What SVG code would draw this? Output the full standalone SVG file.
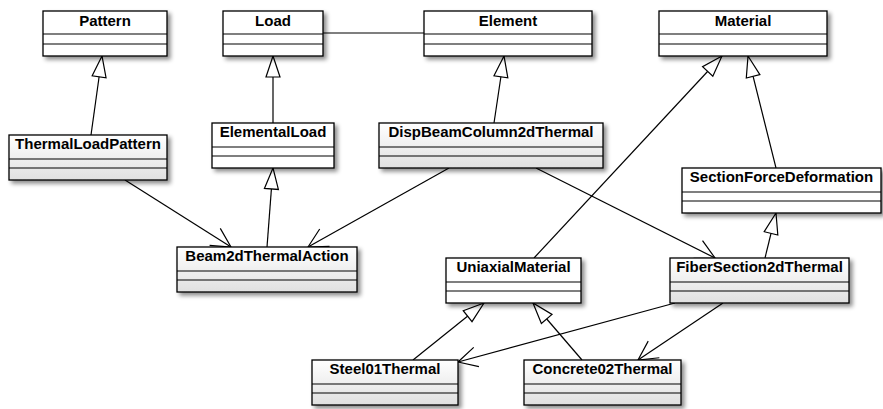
<svg xmlns="http://www.w3.org/2000/svg" width="883" height="409" viewBox="0 0 883 409">
  <defs>
    <style>
      .box { stroke: #000; stroke-width: 1.3; filter: url(#shadow); }
      .plain { fill: #fff; }
      .shade { fill: url(#fade); }
      .sep { stroke: #000; stroke-width: 1.2; }
      .name { font-family: "Liberation Sans", Arial, sans-serif; font-weight: bold; font-size: 15px; text-anchor: middle; fill: #000; }
      .link { fill: none; stroke: #000; stroke-width: 1.2; }
      .gen { marker-end: url(#triangle); }
      .assoc { marker-end: url(#openArrow); }
    </style>
    <linearGradient id="fade" x1="0" y1="0" x2="0" y2="1">
      <stop offset="0" stop-color="#ffffff"/>
      <stop offset="1" stop-color="#e0e0e0"/>
    </linearGradient>
    <filter id="shadow" x="-10%" y="-20%" width="130%" height="160%">
      <feDropShadow dx="3" dy="3" stdDeviation="2" flood-color="#000" flood-opacity="0.45"/>
    </filter>
    <marker id="triangle" markerUnits="userSpaceOnUse" orient="auto" markerWidth="30" markerHeight="30" refX="0" refY="0" viewBox="-25 -15 30 30" overflow="visible">
      <path d="M0,0 L-21,-7 L-21,7 Z" fill="#fff" stroke="#000" stroke-width="1.2"/>
    </marker>
    <marker id="openArrow" markerUnits="userSpaceOnUse" orient="auto" markerWidth="30" markerHeight="30" refX="0" refY="0" viewBox="-25 -15 30 30" overflow="visible">
      <path d="M-19,-10 L0,0 L-19,10" fill="none" stroke="#000" stroke-width="1.2"/>
    </marker>
  </defs>

  <rect width="883" height="409" fill="#fff"/>

  <!-- connectors -->
  <g id="connectors">
    <path class="link gen" d="M91,135 L102,56"/>
    <path class="link gen" d="M273,123 L273,56"/>
    <path class="link" d="M323,33 L424,33"/>
    <path class="link gen" d="M494,123 L504,56"/>
    <path class="link gen" d="M534,258 L722,56"/>
    <path class="link gen" d="M776,168 L748,56"/>
    <path class="link gen" d="M765,258 L776,213"/>
    <path class="link assoc" d="M125,180 L231,247"/>
    <path class="link gen" d="M267,247 L273,168"/>
    <path class="link assoc" d="M449,168 L308,247"/>
    <path class="link assoc" d="M536,168 L715,258"/>
    <path class="link gen" d="M413,360 L484,303"/>
    <path class="link gen" d="M582,360 L533,303"/>
    <path class="link assoc" d="M675,303 L458,362"/>
    <path class="link assoc" d="M723,303 L638,360"/>
  </g>

  <!-- classes -->
  <g id="Pattern">
    <rect class="box plain" x="43" y="11" width="124" height="45"/>
    <path class="sep" d="M43,34 H167 M43,44 H167"/>
    <text class="name" x="105" y="25.5">Pattern</text>
  </g>
  <g id="Load">
    <rect class="box plain" x="223" y="11" width="100" height="45"/>
    <path class="sep" d="M223,34 H323 M223,44 H323"/>
    <text class="name" x="273" y="25.5">Load</text>
  </g>
  <g id="Element">
    <rect class="box plain" x="424" y="11" width="168" height="45"/>
    <path class="sep" d="M424,34 H592 M424,44 H592"/>
    <text class="name" x="508" y="25.5">Element</text>
  </g>
  <g id="Material">
    <rect class="box plain" x="659" y="11" width="168" height="45"/>
    <path class="sep" d="M659,34 H827 M659,44 H827"/>
    <text class="name" x="743" y="25.5">Material</text>
  </g>
  <g id="ThermalLoadPattern">
    <rect class="box shade" x="9" y="135" width="158" height="45"/>
    <path class="sep" d="M9,159 H167 M9,168 H167"/>
    <text class="name" x="88" y="149">ThermalLoadPattern</text>
  </g>
  <g id="ElementalLoad">
    <rect class="box plain" x="212" y="123" width="122" height="45"/>
    <path class="sep" d="M212,147 H334 M212,156 H334"/>
    <text class="name" x="273" y="137">ElementalLoad</text>
  </g>
  <g id="DispBeamColumn2dThermal">
    <rect class="box shade" x="379" y="123" width="224" height="45"/>
    <path class="sep" d="M379,147 H603 M379,156 H603"/>
    <text class="name" x="491" y="137">DispBeamColumn2dThermal</text>
  </g>
  <g id="SectionForceDeformation">
    <rect class="box plain" x="682" y="168" width="199" height="45"/>
    <path class="sep" d="M682,192 H881 M682,201 H881"/>
    <text class="name" x="781.5" y="182">SectionForceDeformation</text>
  </g>
  <g id="Beam2dThermalAction">
    <rect class="box shade" x="177" y="247" width="180" height="45"/>
    <path class="sep" d="M177,271 H357 M177,280 H357"/>
    <text class="name" x="267" y="261">Beam2dThermalAction</text>
  </g>
  <g id="UniaxialMaterial">
    <rect class="box plain" x="446" y="258" width="135" height="45"/>
    <path class="sep" d="M446,282 H581 M446,291 H581"/>
    <text class="name" x="513.5" y="272">UniaxialMaterial</text>
  </g>
  <g id="FiberSection2dThermal">
    <rect class="box shade" x="670" y="258" width="179" height="45"/>
    <path class="sep" d="M670,282 H849 M670,291 H849"/>
    <text class="name" x="759.5" y="272">FiberSection2dThermal</text>
  </g>
  <g id="Steel01Thermal">
    <rect class="box shade" x="312" y="360" width="146" height="45"/>
    <path class="sep" d="M312,384 H458 M312,393 H458"/>
    <text class="name" x="385" y="374">Steel01Thermal</text>
  </g>
  <g id="Concrete02Thermal">
    <rect class="box shade" x="524" y="360" width="157" height="45"/>
    <path class="sep" d="M524,384 H681 M524,393 H681"/>
    <text class="name" x="602.5" y="374">Concrete02Thermal</text>
  </g>
</svg>
